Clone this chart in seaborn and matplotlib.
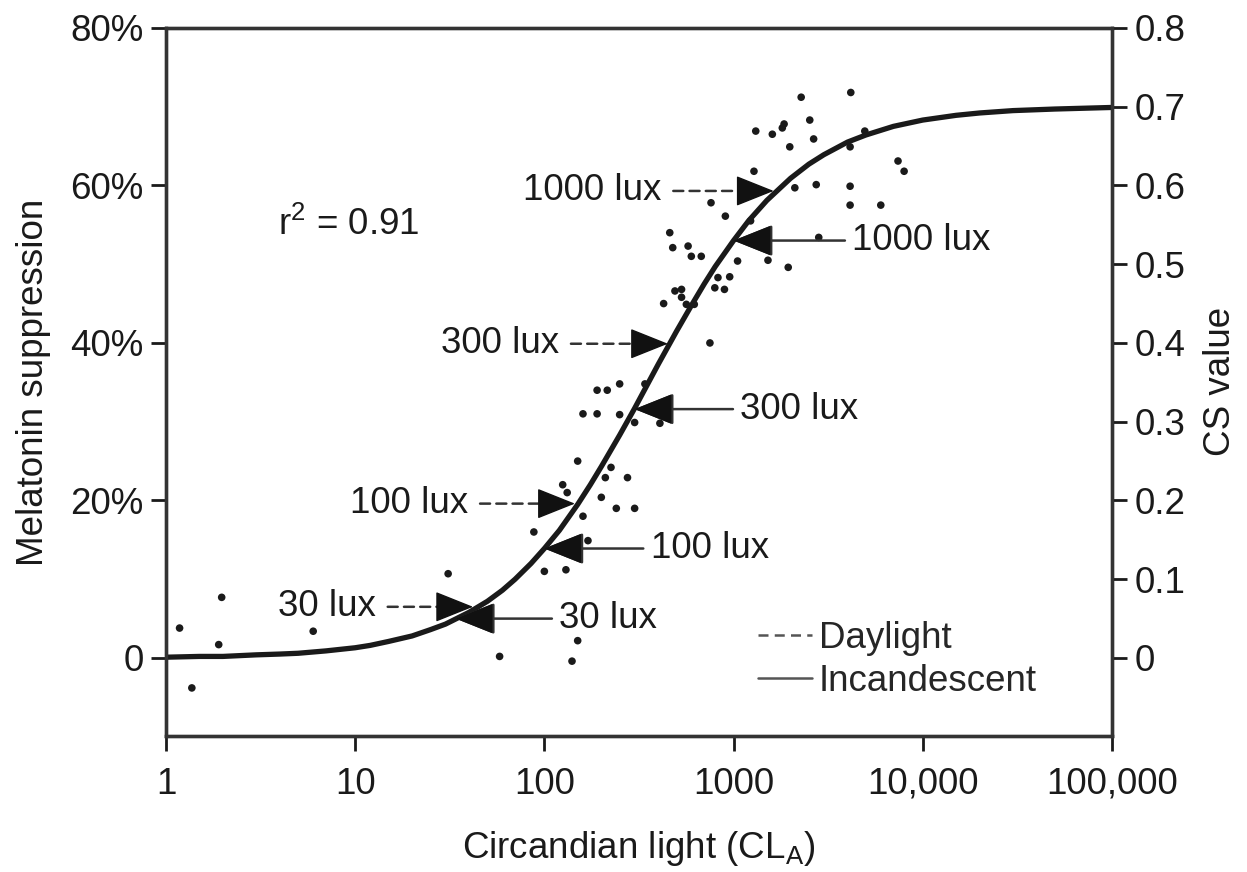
import matplotlib
matplotlib.use('Agg')
import numpy as np
import pandas as pd
import matplotlib.pyplot as plt
import seaborn as sns
from matplotlib.lines import Line2D

# fitted CS curve
curve_cl = [1, 1.5, 2, 3, 4, 5, 7, 10, 12, 15, 20, 25, 30, 40, 50, 60, 70, 85, 100, 120, 150, 175,
            200, 250, 300, 350, 400, 500, 600, 700, 800, 1000, 1200, 1500, 2000, 2500, 3000, 4000,
            5000, 7000, 10000, 15000, 20000, 30000, 50000, 100000]
curve_cs = [0.001, 0.002, 0.002, 0.004, 0.005, 0.006, 0.009, 0.013, 0.016, 0.021, 0.028, 0.036,
            0.043, 0.058, 0.072, 0.086, 0.100, 0.120, 0.139, 0.162, 0.195, 0.220, 0.243, 0.283,
            0.317, 0.347, 0.373, 0.415, 0.448, 0.475, 0.497, 0.530, 0.555, 0.581, 0.609, 0.627,
            0.639, 0.655, 0.664, 0.675, 0.683, 0.689, 0.692, 0.695, 0.697, 0.699]

# measured points
pts_cl = [1.18, 1.37, 1.97, 1.9, 6.0, 31, 58, 140, 150, 100, 130, 88, 150, 170, 160, 125, 132,
          200, 240, 300, 210, 275, 225, 150, 160, 190, 215, 250, 300, 250, 340, 190, 408,
          427, 460, 477, 575, 598, 531, 531, 620, 675, 750, 490, 563, 827, 796, 954, 895,
          760, 905, 1230, 1050, 1520, 1945, 2820, 1282, 2108, 2735, 4130, 4130, 6000, 7400,
          7970, 1310, 1603, 1810, 1850, 2650, 1982, 4130, 4940, 2528, 2277, 4165]
pts_cs = [0.038, -0.038, 0.077, 0.017, 0.034, 0.107, 0.002, -0.004, 0.022, 0.110, 0.112, 0.160,
          0.149, 0.149, 0.180, 0.220, 0.210, 0.204, 0.190, 0.190, 0.229, 0.229, 0.242, 0.250,
          0.310, 0.310, 0.340, 0.309, 0.299, 0.348, 0.348, 0.340, 0.298,
          0.450, 0.540, 0.521, 0.523, 0.510, 0.468, 0.458, 0.449, 0.510, 0.400, 0.466, 0.449,
          0.483, 0.470, 0.484, 0.468,
          0.578, 0.561, 0.555, 0.504, 0.505, 0.496, 0.534, 0.618, 0.597, 0.601, 0.599, 0.575,
          0.575, 0.631, 0.618, 0.669, 0.665, 0.673, 0.678, 0.659, 0.649, 0.649, 0.669, 0.683,
          0.712, 0.718]

# lux labels: daylight (dashed) and incandescent (solid)
lux_labels = ['1000 lux', '300 lux', '100 lux', '30 lux']
day_cl = [1630, 450, 145, 42]
day_cs = [0.593, 0.399, 0.196, 0.065]
inc_cl = [1000, 300, 100, 34]
inc_cs = [0.530, 0.316, 0.139, 0.050]
day_text_cl = [417, 120, 39.7, 12.9]
inc_text_cl = [4245, 1087, 365, 120]

x_ticks = [1, 10, 100, 1000, 10000, 100000]
x_ticklabels = ['1', '10', '100', '1000', '10,000', '100,000']
left_ticks = [0, 0.2, 0.4, 0.6, 0.8]
left_ticklabels = ['0', '20%', '40%', '60%', '80%']
right_ticks = [0, 0.1, 0.2, 0.3, 0.4, 0.5, 0.6, 0.7, 0.8]
right_ticklabels = ['0', '0.1', '0.2', '0.3', '0.4', '0.5', '0.6', '0.7', '0.8']

sns.set_theme(style='white')
plt.rcParams['font.family'] = ['Liberation Sans', 'DejaVu Sans']
plt.rcParams['mathtext.fontset'] = 'custom'
plt.rcParams['mathtext.rm'] = 'Liberation Sans'
plt.rcParams['mathtext.it'] = 'Liberation Sans'
FS = 26.5
ink = '#1a1a1a'

fig = plt.figure(figsize=(12.47, 8.72), dpi=100)
ax = fig.add_axes([0.1331, 0.156, 0.7586, 0.812])

dfc = pd.DataFrame({'cl': curve_cl, 'cs': curve_cs})
dfp = pd.DataFrame({'cl': pts_cl, 'cs': pts_cs})
sns.lineplot(data=dfc, x='cl', y='cs', ax=ax, color=ink, lw=3.8, zorder=3)
sns.scatterplot(data=dfp, x='cl', y='cs', ax=ax, color=ink, s=30, edgecolor='none', zorder=2)

ax.set_xscale('log')
ax.set_xlim(1, 100000)
ax.set_ylim(-0.099, 0.8)

astyle = '-|>,head_length=0.85,head_width=0.34'
head_back = 1.45  # head drawn from a point this factor left of the tip (log scale)
for lab, tx, x, y in zip(lux_labels, day_text_cl, day_cl, day_cs):
    # dashed shaft
    ax.annotate(lab, xy=(x / head_back, y), xytext=(tx, y), ha='right', va='center', fontsize=FS,
                color=ink, zorder=4,
                arrowprops=dict(arrowstyle='-', linestyle=(0, (4, 2.5)), lw=1.8, color='#333333',
                                shrinkA=6, shrinkB=0))
    # solid filled head
    ax.annotate('', xy=(x, y), xytext=(x / head_back, y), zorder=4,
                arrowprops=dict(arrowstyle=astyle, mutation_scale=29, lw=1.0, color='#111111',
                                shrinkA=0, shrinkB=0))
for lab, tx, x, y in zip(lux_labels, inc_text_cl, inc_cl, inc_cs):
    ax.annotate(lab, xy=(x, y), xytext=(tx, y), ha='left', va='center', fontsize=FS, color=ink,
                arrowprops=dict(arrowstyle=astyle, mutation_scale=29, lw=1.8, color='#333333',
                                shrinkA=3, shrinkB=0),
                zorder=4)
    ax.annotate('', xy=(x, y), xytext=(x * head_back, y), zorder=4,
                arrowprops=dict(arrowstyle=astyle, mutation_scale=29, lw=1.0, color='#111111',
                                shrinkA=0, shrinkB=0))

ax.text(3.9, 0.55, 'r$^2$ = 0.91', fontsize=FS, color=ink, va='center', ha='left')

handles = [Line2D([], [], color='#555555', lw=1.8, ls=(0, (4, 2.5))),
           Line2D([], [], color='#555555', lw=1.8)]
ax.legend(handles, ['Daylight', 'Incandescent'], loc='upper left', bbox_to_anchor=(0.626, 0.163),
          frameon=False, fontsize=FS, handlelength=1.45, handletextpad=0.2, borderpad=0,
          borderaxespad=0, labelspacing=0.22)

ax.set_xticks(x_ticks)
ax.set_xticklabels(x_ticklabels)
ax.xaxis.set_minor_locator(matplotlib.ticker.NullLocator())
ax.set_yticks(left_ticks)
ax.set_yticklabels(left_ticklabels)
ax.set_xlabel('Circandian light (CL$_\\mathrm{A}$)', fontsize=FS, color=ink, labelpad=20)
ax.set_ylabel('Melatonin suppression', fontsize=FS, color=ink, labelpad=14)

ax2 = ax.twinx()
ax2.set_ylim(ax.get_ylim())
ax2.set_yticks(right_ticks)
ax2.set_yticklabels(right_ticklabels)
ax2.set_ylabel('CS value', fontsize=FS, color=ink, labelpad=13)

for a in (ax, ax2):
    a.tick_params(direction='out', length=11, width=2, colors=ink, labelsize=FS, pad=5,
                  bottom=(a is ax), left=(a is ax), right=(a is ax2), top=False)
    for s in a.spines.values():
        s.set_linewidth(2.4)
        s.set_color('#333333')
ax.tick_params(axis='x', pad=11)

fig.savefig('out.png', dpi=100)
